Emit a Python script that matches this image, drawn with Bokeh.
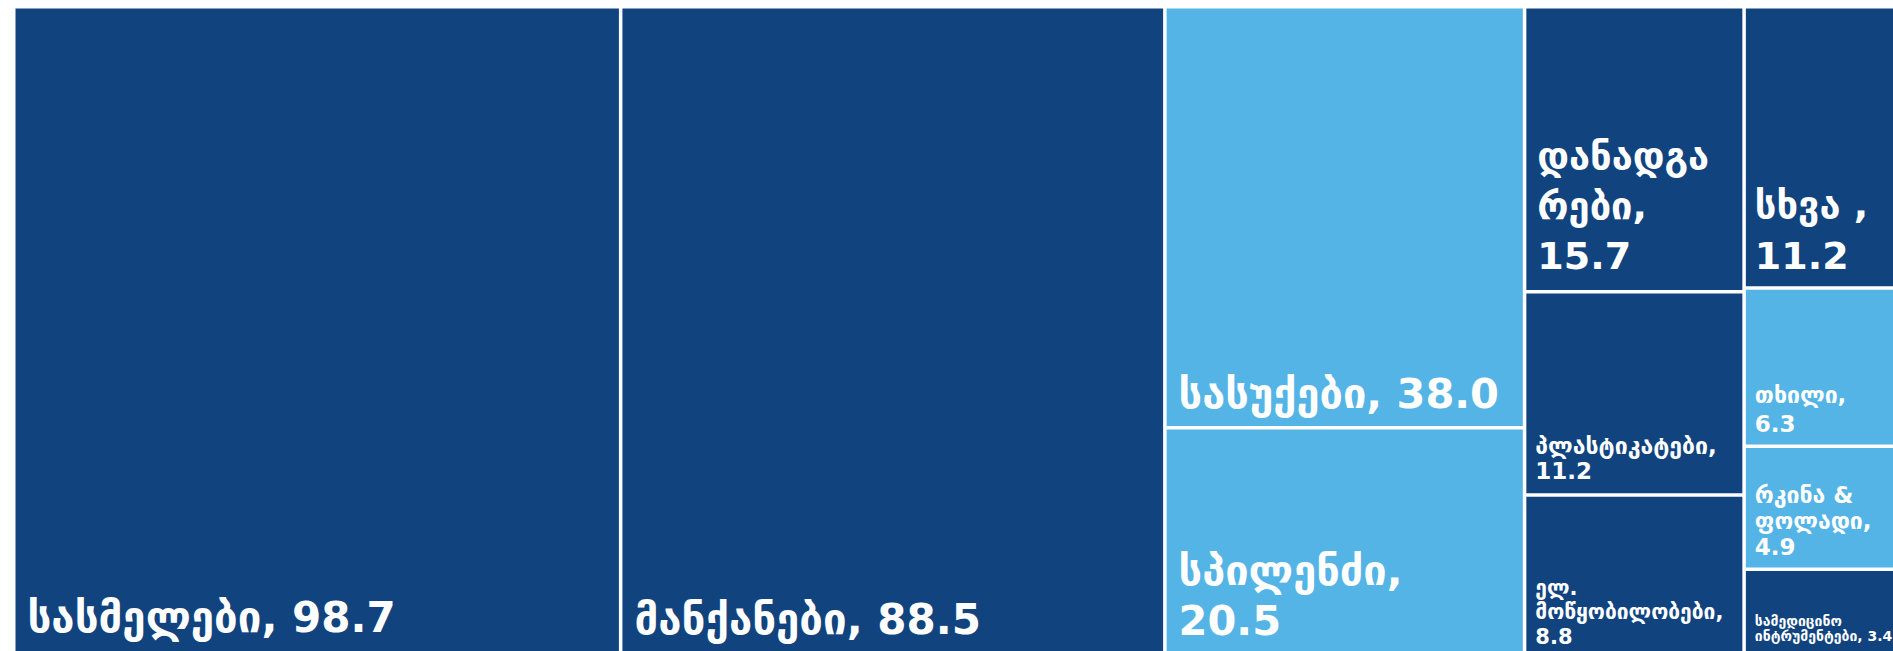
from bokeh.plotting import figure
from bokeh.models import Range1d, ColumnDataSource
from bokeh.embed import file_html
from bokeh.resources import INLINE
from bokeh.core.properties import value

# ---------------- data ----------------
names = ["სასმელები", "მანქანები", "სასუქები", "სპილენძი", "დანადგარები",
         "პლასტიკატები", "ელ. მოწყობილობები", "სხვა ", "თხილი",
         "რკინა & ფოლადი", "სამედიცინო ინტრუმენტები"]
values = [98.7, 88.5, 38.0, 20.5, 15.7, 11.2, 8.8, 11.2, 6.3, 4.9, 3.4]
groups = [0, 1, 2, 2, 3, 3, 3, 4, 4, 4, 4]          # treemap column of each tile
shade = ["dark", "dark", "light", "light", "dark", "dark", "dark",
         "dark", "light", "light", "dark"]

# ---------------- styles ----------------
COLORS = {"dark": "#11447F", "light": "#55B4E6"}
FONT = "DejaVu Sans"
font_px = [42, 42, 41.5, 41.5, 38, 23, 21, 38, 23, 23, 14]
line_h = [49, 49, 49, 49, 50, 25, 24, 50, 28, 25.5, 15.5]
pad_bottom = [22, 20, 19.5, 20, 22, 15, 10, 19, 14, 14, 12.5]
pad_left = [12, 12, 12, 12, 11, 9, 9, 9, 9, 9, 9]
breaks = [[], [], [], [","], ["დანადგა", ","], [","], [".", ","], [","],
          [","], ["&", ","], ["სამედიცინო"]]
BASELINE_FIX = 0.32   # em; renderer places alphabetic baseline this far below the anchor

GAP = 3.5
X0, Y0 = 13.25, 6.25          # page coords of treemap origin
W, H = 1889.0, 648.0           # treemap extent (overflows the window like the original)


def wrap(s, toks):
    lines, pos = [], 0
    for t in toks:
        i = s.find(t, pos) + len(t)
        lines.append(s[pos:i].rstrip())
        pos = i
        while pos < len(s) and s[pos] == " ":
            pos += 1
    lines.append(s[pos:])
    return lines


# ---- slice-and-dice layout by column ----
total = sum(values)
ncol = max(groups) + 1
col_sum = [sum(v for v, g in zip(values, groups) if g == c) for c in range(ncol)]
n_items = len(values)
L = [0.0] * n_items; R = [0.0] * n_items; T = [0.0] * n_items; B = [0.0] * n_items
xc = X0
for c in range(ncol):
    cw = col_sum[c] / total * W
    yc = Y0
    for i, (v, g) in enumerate(zip(values, groups)):
        if g != c:
            continue
        h = v / col_sum[c] * H
        L[i], R[i], T[i], B[i] = xc, xc + cw, yc, yc + h
        yc += h
    xc += cw

hg = GAP / 2
src = ColumnDataSource(dict(
    left=[x + hg for x in L], right=[x - hg for x in R],
    top=[y + hg for y in T], bottom=[y - hg for y in B],
    color=[COLORS[s] for s in shade]))

p = figure(width=1893, height=651, output_backend="svg", toolbar_location=None,
           x_range=Range1d(0, 1893), y_range=Range1d(651, 0),
           min_border=0, min_border_left=0, min_border_right=0,
           min_border_top=0, min_border_bottom=0)
p.axis.visible = False
p.grid.visible = False
p.outline_line_color = None
p.background_fill_color = "white"
p.border_fill_color = "white"

p.quad(left="left", right="right", top="top", bottom="bottom", source=src,
       fill_color="color", line_color=None)

for i in range(n_items):
    lab = f"{names[i]}, {values[i]:.1f}"
    lines = wrap(lab, breaks[i])
    n = len(lines)
    xs, ys, txt, yo = [], [], [], []
    for j, ln in enumerate(lines):
        xs.append(L[i] + hg)
        ys.append(B[i] - hg)
        txt.append(ln)
        yo.append(-(pad_bottom[i] + (n - 1 - j) * line_h[i] + BASELINE_FIX * font_px[i]))
    p.text(x=xs, y=ys, text=txt, x_offset=pad_left[i], y_offset=yo,
           text_font=value(FONT), text_font_style="bold",
           text_font_size=f"{font_px[i]}px", text_color="white",
           text_align="left", text_baseline="alphabetic")

open("out.html", "w").write(file_html(p, INLINE))
